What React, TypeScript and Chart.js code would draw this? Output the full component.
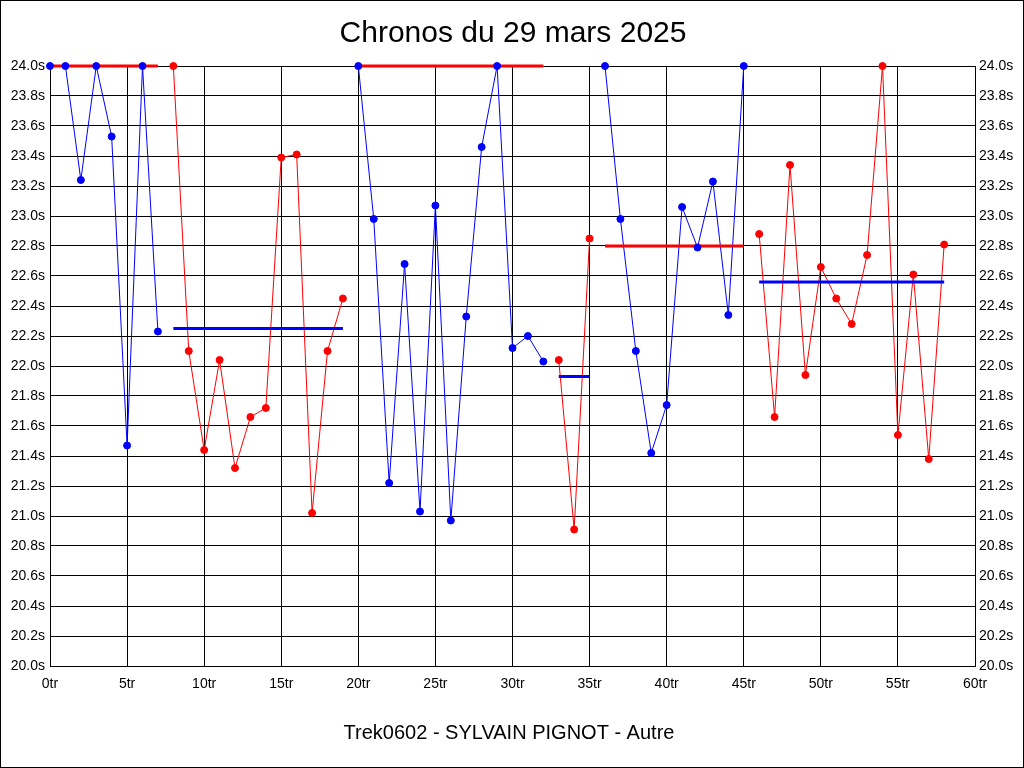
import React, { useEffect, useRef } from "react";
import { Chart, registerables } from "chart.js";

Chart.register(...registerables);

const TITLE = "Chronos du 29 mars 2025";
const FOOTER = "Trek0602 - SYLVAIN PIGNOT - Autre";

// lap times (s), one array per run segment
const seg1 = [24.0, 24.0, 23.24, 24.0, 23.53, 21.47, 24.0, 22.23];
const seg2 = [24.0, 22.1, 21.44, 22.04, 21.32, 21.66, 21.72, 23.39, 23.41, 21.02, 22.1, 22.45];
const seg3 = [24.0, 22.98, 21.22, 22.68, 21.03, 23.07, 20.97, 22.33, 23.46, 24.0, 22.12, 22.2, 22.03];
const seg4 = [22.04, 20.91, 22.85];
const seg5 = [24.0, 22.98, 22.1, 21.42, 21.74, 23.06, 22.79, 23.23, 22.34, 24.0];
const seg6 = [22.88, 21.66, 23.34, 21.94, 22.66, 22.45, 22.28, 22.74, 24.0, 21.54, 22.61, 21.38, 22.81];
const segments = [seg1, seg2, seg3, seg4, seg5, seg6];
const segStart = [0, 8, 20, 33, 36, 46];
const segAverage = [24.0, 22.25, 24.0, 21.93, 22.8, 22.56];

const X_MIN = 0;
const X_MAX = 60;
const X_STEP = 5;
const Y_MIN = 20;
const Y_MAX = 24;
const Y_STEP = 0.2;

const BLUE = "#0000ff";
const RED = "#ff0000";
const FONT = "'Liberation Sans', Arial, sans-serif";

export default function App() {
  const ref = useRef<HTMLCanvasElement>(null);

  useEffect(() => {
    if (!ref.current) return;
    const datasets: any[] = [];
    segments.forEach((vals, s) => {
      const start = segStart[s];
      const pts = vals.map((v, i) => ({ x: start + i, y: v }));
      const color = s % 2 === 0 ? BLUE : RED;
      const avgColor = s % 2 === 0 ? RED : BLUE;
      datasets.push({
        data: pts,
        borderColor: color,
        backgroundColor: color,
        borderWidth: 1,
        pointRadius: 0,
        tension: 0,
        order: 3,
        clip: false,
      });
      datasets.push({
        data: [
          { x: start, y: segAverage[s] },
          { x: start + vals.length - 1, y: segAverage[s] },
        ],
        borderColor: avgColor,
        backgroundColor: avgColor,
        borderWidth: 3,
        pointRadius: 0,
        order: 2,
        clip: false,
      });
      datasets.push({
        data: pts,
        showLine: false,
        borderColor: color,
        backgroundColor: color,
        pointRadius: 3.5,
        pointBorderWidth: 1,
        pointBackgroundColor: color,
        pointBorderColor: color,
        order: 1,
        clip: false,
      });
    });

    const tickFont = { family: FONT, size: 14 };
    const yTicks = {
      stepSize: Y_STEP,
      color: "#000",
      font: tickFont,
      callback: (v: any) => Number(v).toFixed(1) + "s",
    };

    const frame = {
      id: "frame",
      beforeDraw(chart: any) {
        const ctx = chart.ctx;
        ctx.save();
        ctx.fillStyle = "#fff";
        ctx.fillRect(0, 0, chart.width, chart.height);
        ctx.restore();
      },
      afterDraw(chart: any) {
        const ctx = chart.ctx;
        ctx.save();
        ctx.strokeStyle = "#000";
        ctx.lineWidth = 1;
        ctx.strokeRect(0.5, 0.5, chart.width - 1, chart.height - 1);
        ctx.fillStyle = "#000";
        ctx.textAlign = "center";
        ctx.textBaseline = "middle";
        ctx.font = `30px ${FONT}`;
        ctx.fillText(TITLE, chart.width / 2 + 1, 34);
        ctx.font = `20px ${FONT}`;
        ctx.fillText(FOOTER, chart.width / 2 - 3, 733);
        ctx.restore();
      },
    };

    const chart = new Chart(ref.current, {
      type: "line",
      data: { datasets },
      options: {
        animation: false,
        responsive: false,
        devicePixelRatio: 1,
        layout: { padding: { top: 66, left: 0, right: 0, bottom: 0 } },
        plugins: { legend: { display: false }, tooltip: { enabled: false }, title: { display: false } },
        scales: {
          x: {
            type: "linear",
            min: X_MIN,
            max: X_MAX,
            ticks: {
              stepSize: X_STEP,
              color: "#000",
              font: tickFont,
              padding: 10,
              maxRotation: 0,
              callback: (v: any) => v + "tr",
            },
            grid: { color: "#000", lineWidth: 1, drawTicks: false },
            border: { color: "#000" },
            afterFit: (s: any) => {
              s.height = 102;
            },
          },
          y: {
            position: "left",
            min: Y_MIN,
            max: Y_MAX,
            ticks: { ...yTicks, padding: 5 },
            grid: { color: "#000", lineWidth: 1, drawTicks: false },
            border: { color: "#000" },
            afterFit: (s: any) => {
              s.width = 50;
            },
          },
          y2: {
            position: "right",
            min: Y_MIN,
            max: Y_MAX,
            ticks: { ...yTicks, padding: 4 },
            grid: { drawOnChartArea: false, drawTicks: false },
            border: { color: "#000" },
            afterFit: (s: any) => {
              s.width = 49;
            },
          },
        },
      } as any,
      plugins: [frame],
    });
    return () => chart.destroy();
  }, []);

  return (
    <div style={{ position: "absolute", left: 0, top: 0, width: 1024, height: 768 }}>
      <canvas ref={ref} width={1024} height={768} />
    </div>
  );
}
